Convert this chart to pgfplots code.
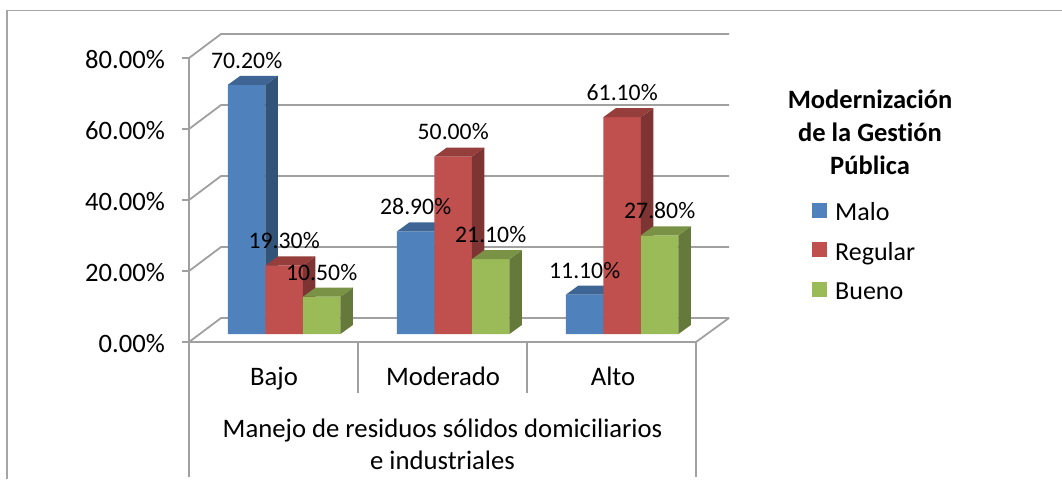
\documentclass[border=0pt]{standalone}
\usepackage{pgfplots}
\pgfplotsset{compat=1.18}
\usepackage{fontspec}
\setmainfont{Carlito}[Ligatures=NoCommon]
\definecolor{gridg}{HTML}{A0A0A0}
\definecolor{frameg}{HTML}{A6A6A6}
\definecolor{bluef}{HTML}{4F81BD}\definecolor{bluet}{HTML}{3E6593}\definecolor{blues}{HTML}{335479}
\definecolor{redf}{HTML}{C0504D}\definecolor{redt}{HTML}{963E3C}\definecolor{reds}{HTML}{7D3432}
\definecolor{greenf}{HTML}{9BBB59}\definecolor{greent}{HTML}{799246}\definecolor{greens}{HTML}{657A3A}
\newcommand{\cube}[5]{%
 \addplot[fill=#4,draw=none,forget plot] coordinates {({#1+(#2+.5)*0.2219},0) ({#1+(#2+.5)*0.2219+0.0734},2.535) ({#1+(#2+.5)*0.2219+0.0734},{#3+2.535}) ({#1+(#2+.5)*0.2219},#3)} --cycle;
 \addplot[fill=#5,draw=none,forget plot] coordinates {({#1+(#2-.5)*0.2219},#3) ({#1+(#2-.5)*0.2219+0.0734},{#3+2.535}) ({#1+(#2+.5)*0.2219+0.0734},{#3+2.535}) ({#1+(#2+.5)*0.2219},#3)} --cycle;
}
\pgfplotsset{lab/.style={ybar,bar width=37.5pt,bar shift=#1,draw=none,fill=none,forget plot,
  nodes near coords={\pgfmathprintnumber[fixed,fixed zerofill,precision=2,assume math mode=true]{\pgfplotspointmeta}\%},
  every node near coord/.style={font=\fontsize{23.7}{23.7}\selectfont,text=black,anchor=center,xshift=#1,yshift=24.5pt,inner sep=0pt}}}
\begin{document}
\begin{tikzpicture}
\path[use as bounding box] (0pt,0pt) rectangle (1062pt,-479pt);
% chart frame
\draw[frameg,line width=2pt] (7pt,-479pt) -- (7pt,-10.5pt);
\draw[frameg,line width=1.4pt] (6pt,-10.5pt) -- (1062pt,-10.5pt);
% walls and floor
\begin{axis}[at={(189pt,-342pt)},anchor=south west,scale only axis,width=507pt,height=284pt,
  xmin=189,xmax=696,ymin=0,ymax=80,clip=false,
  axis y line=left,axis x line=bottom,axis line style={-,gridg,line width=1.8pt},
  ytick={0,20,40,60,80},tick align=outside,major tick length=7pt,
  y tick style={gridg,line width=1.8pt},
  yticklabel={\pgfmathprintnumber[fixed,fixed zerofill,precision=2,assume math mode=true]{\tick}\%},
  yticklabel style={font=\fontsize{26.6}{26.6}\selectfont,text=black,inner sep=0pt,xshift=-17pt,yshift=-1.5pt},
  xtick={274,443,613},xticklabels={Bajo,Moderado,Alto},
  x tick style={draw=none},
  xticklabel style={font=\fontsize{26.7}{26.7}\selectfont,text=black,anchor=center,text height=18pt,text depth=6pt,yshift=-30pt},
  xlabel={Manejo de residuos sólidos domiciliarios\\e industriales},
  xlabel style={font=\fontsize{26.7}{32}\selectfont,align=center,anchor=center,at={(axis description cs:0.5,0)},yshift=-102pt},
]
\foreach \k in {0,20,40,60,80}{
  \edef\tmp{\noexpand\draw[gridg,line width=1.8pt] (axis cs:189,\k) -- (axis cs:221,\k+6.76) -- (axis cs:729,\k+6.76);}\tmp
}
\draw[gridg,line width=1.8pt] (axis cs:696,0) -- (axis cs:729,6.76);
\draw[gridg,line width=1.8pt] (axis cs:189,0) -- (axis cs:189,-38);
\draw[gridg,line width=1.8pt] (axis cs:696,0) -- (axis cs:696,-38);
\draw[gridg,line width=1.8pt] (axis cs:358,0) -- (axis cs:358,-14.4);
\draw[gridg,line width=1.8pt] (axis cs:527,0) -- (axis cs:527,-14.4);
\end{axis}
% bars
\begin{axis}[at={(199.7pt,-334pt)},anchor=south west,scale only axis,width=507pt,height=284pt,
  xmin=-0.5,xmax=2.5,ymin=0,ymax=80,clip=false,hide axis,
  legend style={draw=none,fill=none,at={(1.2018,0.47)},anchor=north west,
    legend cell align=left,row sep=15.5pt,column sep=8pt,
    nodes={inner sep=0pt,font=\fontsize{26}{26}\selectfont,text height=17pt,text depth=6pt}},
  legend image code/.code={\fill[#1] (0pt,-2.5pt) rectangle (15pt,12.5pt);},
]
\addplot[ybar,bar width=37.5pt,bar shift=-37.5pt,fill=bluef,draw=none] coordinates {(0,70.2) (1,28.9) (2,11.1)};
\addlegendentry{Malo}
\cube{0}{-1}{70.2}{blues}{bluet}\cube{1}{-1}{28.9}{blues}{bluet}\cube{2}{-1}{11.1}{blues}{bluet}
\addplot[ybar,bar width=37.5pt,bar shift=0pt,fill=redf,draw=none] coordinates {(0,19.3) (1,50.0) (2,61.1)};
\addlegendentry{Regular}
\cube{0}{0}{19.3}{reds}{redt}\cube{1}{0}{50.0}{reds}{redt}\cube{2}{0}{61.1}{reds}{redt}
\addplot[ybar,bar width=37.5pt,bar shift=37.5pt,fill=greenf,draw=none] coordinates {(0,10.5) (1,21.1) (2,27.8)};
\addlegendentry{Bueno}
\cube{0}{1}{10.5}{greens}{greent}\cube{1}{1}{21.1}{greens}{greent}\cube{2}{1}{27.8}{greens}{greent}
% data labels on top of all faces
\addplot[lab=-37.5pt] coordinates {(0,70.2) (1,28.9) (2,11.1)};
\addplot[lab=0pt] coordinates {(0,19.3) (1,50.0) (2,61.1)};
\addplot[lab=37.5pt] coordinates {(0,10.5) (1,21.1) (2,27.8)};
\end{axis}
% legend title
\node[font=\fontsize{26.5}{33}\selectfont\bfseries,align=center,anchor=center] at (870pt,-132pt) {Modernización\\de la Gestión\\Pública};
\end{tikzpicture}
\end{document}
